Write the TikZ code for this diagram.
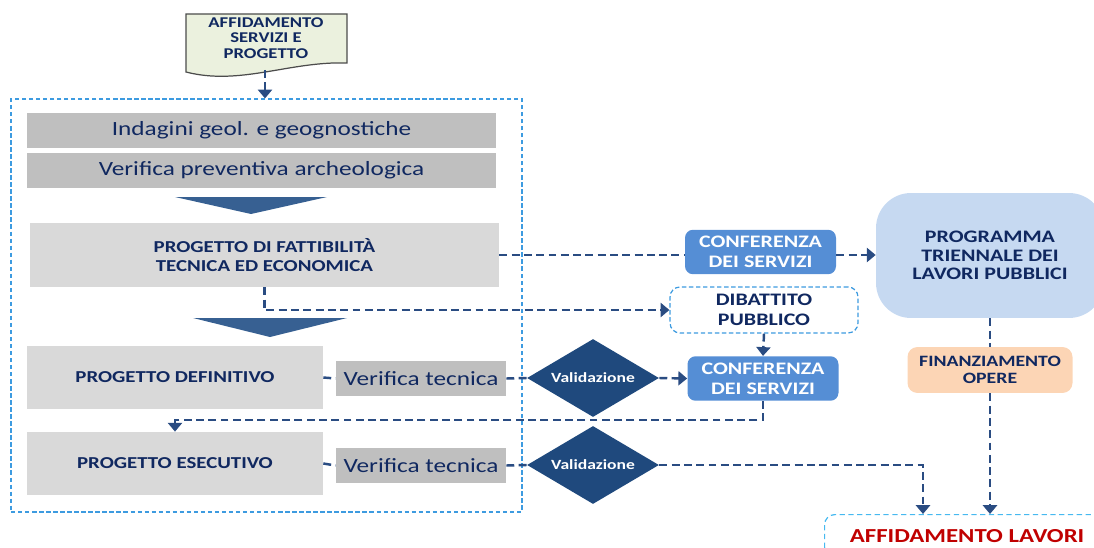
\documentclass[tikz,border=0pt]{standalone}
\usepackage{fontspec}
\setmainfont{Carlito}[FakeStretch=1.25]
\usetikzlibrary{shapes.geometric,arrows.meta}
\definecolor{navy}{RGB}{16,40,96}
\definecolor{linkblue}{RGB}{42,76,130}
\definecolor{chevblue}{RGB}{55,96,146}
\definecolor{diablue}{RGB}{31,73,125}
\definecolor{confblue}{RGB}{85,142,213}
\definecolor{progblue}{RGB}{198,217,241}
\definecolor{finpeach}{RGB}{252,213,181}
\definecolor{framblue}{RGB}{61,155,224}
\definecolor{affblue}{RGB}{70,185,240}
\definecolor{affred}{RGB}{192,0,0}
\definecolor{bargray}{RGB}{191,191,191}
\definecolor{boxgray}{RGB}{217,217,217}
\definecolor{docfill}{RGB}{235,241,222}
\begin{document}
\begin{tikzpicture}[x=0.02cm,y=-0.02cm,
  bar/.style={fill=bargray,text=navy,inner sep=0pt,font=\fontsize{11.5}{13}\selectfont},
  fase/.style={fill=boxgray,text=navy,inner sep=0pt,align=center,font=\bfseries\fontsize{9.5}{11}\selectfont},
  conf/.style={fill=confblue,text=white,rounded corners=0.16cm,inner sep=0pt,align=center,minimum width=3.02cm,minimum height=0.89cm,font=\bfseries\fontsize{10}{11.4}\selectfont},
  valid/.style={diamond,aspect=1.7,fill=diablue,text=white,inner sep=0pt,minimum width=2.64cm,minimum height=1.56cm,font=\bfseries\fontsize{8}{9}\selectfont},
  link/.style={draw=linkblue,line width=1.4pt,dash pattern=on 4.5pt off 2.5pt},
  tip/.style={link,-{Triangle[width=8pt,length=5pt]}}]
\useasboundingbox (0,0) rectangle (1094,547);
\clip (0,0) rectangle (1094,547);
\fill[docfill,draw=black!70,line width=0.7pt] (186,14) -- (347,14) -- (347,63) .. controls (290,61) and (240,86) .. (186,72) -- cycle;
\node[text=navy,align=center,font=\bfseries\fontsize{8.5}{8.8}\selectfont] (doctext) at (266,38) {AFFIDAMENTO\\SERVIZI E\\PROGETTO};
\coordinate[] (doc) at (265,70);
\node[draw=framblue,line width=0.7pt,dash pattern=on 2.5pt off 1.5pt,minimum width=10.22cm,minimum height=8.26cm] (frame) at (266.5,305.5) {};
\node[bar,minimum width=9.38cm,minimum height=0.7cm] (indag) at (261.5,130.5) {Indagini geol. e geognostiche};
\node[bar,minimum width=9.38cm,minimum height=0.7cm] (archeo) at (261.5,170.5) {Verifica preventiva archeologica};
\fill[chevblue] (175,197) -- (327,197) -- (251,214) -- cycle;
\node[fase,minimum width=9.38cm,minimum height=1.28cm] (pfte) at (264.5,255) {PROGETTO DI FATTIBILIT\`A\\TECNICA ED ECONOMICA};
\fill[chevblue] (193,318) -- (347,318) -- (270,337) -- cycle;
\node[fase,minimum width=5.92cm,minimum height=1.26cm] (pd) at (175,377.5) {PROGETTO DEFINITIVO};
\node[fase,minimum width=5.92cm,minimum height=1.26cm] (pe) at (175,463.5) {PROGETTO ESECUTIVO};
\node[bar,minimum width=3.4cm,minimum height=0.7cm] (vt1) at (421,378.5) {Verifica tecnica};
\node[bar,minimum width=3.4cm,minimum height=0.7cm] (vt2) at (421,465.5) {Verifica tecnica};
\node[valid] (val1) at (593,378) {Validazione};
\node[valid] (val2) at (593,465) {Validazione};
\node[conf] (conf1) at (760.5,252) {CONFERENZA\\DEI SERVIZI};
\node[conf] (conf2) at (763,378.5) {CONFERENZA\\DEI SERVIZI};
\node[draw=framblue,fill=white,line width=0.7pt,dash pattern=on 2.5pt off 1.5pt,rounded corners=0.2cm,inner sep=0pt,minimum width=3.76cm,minimum height=0.92cm,align=center,text=navy,font=\bfseries\fontsize{10}{11.4}\selectfont] (dib) at (764,310) {DIBATTITO\\PUBBLICO};
\node[fill=progblue,rounded corners=0.7cm,inner sep=0pt,minimum width=4.56cm,minimum height=2.5cm,align=center,text=navy,font=\bfseries\fontsize{10}{10.5}\selectfont] (prog) at (990,255.5) {PROGRAMMA\\TRIENNALE DEI\\LAVORI PUBBLICI};
\node[fill=finpeach,rounded corners=0.2cm,inner sep=0pt,minimum width=3.3cm,minimum height=0.92cm,align=center,text=navy,font=\bfseries\fontsize{9}{9.7}\selectfont] (fin) at (990,370) {FINANZIAMENTO\\OPERE};
\node[draw=affblue,line width=0.7pt,dash pattern=on 3pt off 2pt,rounded corners=0.2cm,anchor=north west,minimum width=5.7cm,inner ysep=0.3cm,text=affred,font=\bfseries\fontsize{11.3}{13}\selectfont] (aff) at (824,514) {AFFIDAMENTO LAVORI};
\coordinate[] (a1) at (923,514);
\draw[tip] (doc) -- (doc |- frame.north);
\draw[link] (pfte.east) -- (pfte.east -| conf1.west);
\draw[tip] (conf1.east |- pfte.east) -- (pfte.east -| prog.west);
\draw[tip] (pfte.south) |- (dib.west);
\draw[tip] (dib.south) -- (conf2.north);
\draw[link] (pd.east) -- (vt1.west);
\draw[link] (vt1.east) -- (val1.west);
\draw[tip] (val1.east) -- (conf2.west);
\coordinate[] (k1) at (175,420);
\draw[tip] (conf2.south) |- (k1) -- (pe.north);
\draw[link] (pe.east) -- (vt2.west);
\draw[link] (vt2.east) -- (val2.west);
\draw[tip] (val2.east) -| (a1);
\draw[link] (prog.south) -- (fin.north);
\draw[tip] (fin.south) -- (fin.south |- aff.north);
\end{tikzpicture}
\end{document}
